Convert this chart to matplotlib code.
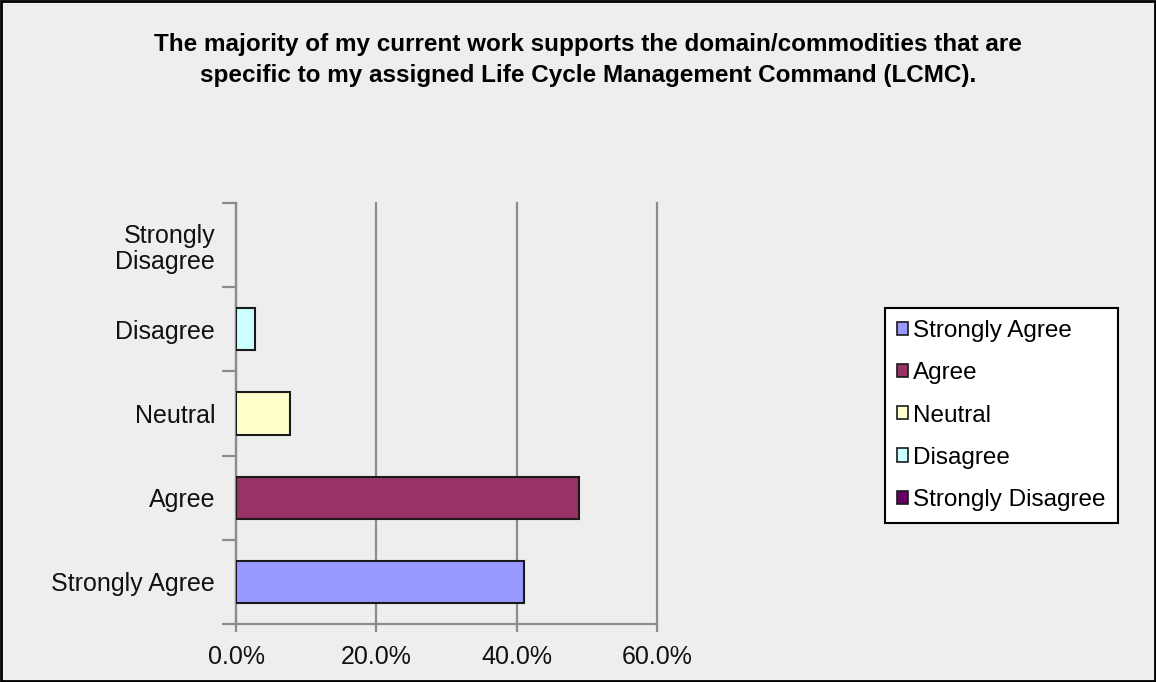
import matplotlib.pyplot as plt
import matplotlib.patches as mpatches
from matplotlib.ticker import PercentFormatter

# survey answers, bottom to top
categories = ["Strongly Agree", "Agree", "Neutral", "Disagree", "Strongly\nDisagree"]
legend_names = ["Strongly Agree", "Agree", "Neutral", "Disagree", "Strongly Disagree"]
values = [41.1, 48.9, 7.7, 2.7, 0.0]
colors = ["#9999FF", "#993366", "#FFFFCC", "#CCFFFF", "#660066"]
x_ticks = [0, 20, 40, 60]

title = ("The majority of my current work supports the domain/commodities that are\n"
         "specific to my assigned Life Cycle Management Command (LCMC).")

bg = "#EEEEEE"
grid_c = "#8C8C8C"
plt.rcParams['font.family'] = ['Liberation Sans', 'DejaVu Sans']

fig = plt.figure(figsize=(11.56, 6.82), dpi=100, facecolor=bg)
ax = fig.add_axes([0.2042, 0.085, 0.3641, 0.6173], facecolor=bg)

for i, (v, c) in enumerate(zip(values, colors)):
    if v > 0:
        ax.barh(i, v, height=0.5, color=c, edgecolor="#1a1a1a", linewidth=1.5, zorder=3)

ax.set_xlim(0, 60)
ax.set_ylim(-0.5, len(categories) - 0.5)
ax.set_xticks(x_ticks)
ax.xaxis.set_major_formatter(PercentFormatter(decimals=1))
ax.grid(axis="x", color=grid_c, linewidth=1.6, zorder=0)
for gl in ax.get_xgridlines():
    gl.set_clip_on(False)

# labels centred on bars, tick marks between categories
ax.set_yticks(range(len(categories)))
ax.set_yticklabels(categories, fontsize=18, color="#111111", linespacing=1.15)
ax.tick_params(axis="y", length=0, pad=15)
ax.set_yticks([i - 0.5 for i in range(len(categories) + 1)], minor=True)
ax.tick_params(axis="y", which="minor", length=10, width=1.6, color=grid_c)
ax.tick_params(axis="x", length=6, width=1.6, color=grid_c, labelsize=18,
               labelcolor="#111111", pad=9)

for side in ["top", "right"]:
    ax.spines[side].set_visible(False)
for side in ["left", "bottom"]:
    ax.spines[side].set_color(grid_c)
    ax.spines[side].set_linewidth(1.6)

fig.text(0.5087, 0.912, title, ha="center", va="center", fontsize=17.5,
         fontweight="bold", linespacing=1.45)

handles = [mpatches.Patch(facecolor=c, edgecolor="#1a1a1a", linewidth=1.2)
           for c in colors]
leg = fig.legend(handles, legend_names, loc="upper left",
                 bbox_to_anchor=(885 / 1156, 1 - 308 / 682),
                 fontsize=17.5, frameon=True, fancybox=False, edgecolor="black",
                 facecolor="white", framealpha=1, handlelength=0.45,
                 handleheight=0.45, handletextpad=0.2, labelspacing=0.83,
                 borderpad=0.5, borderaxespad=0)
leg.get_frame().set_linewidth(1.5)

fig.add_artist(mpatches.Rectangle((0.001, 0.0015), 0.998, 0.997,
                                  transform=fig.transFigure, fill=False,
                                  edgecolor="black", linewidth=2))

fig.savefig("out.png", dpi=100, facecolor=bg)
